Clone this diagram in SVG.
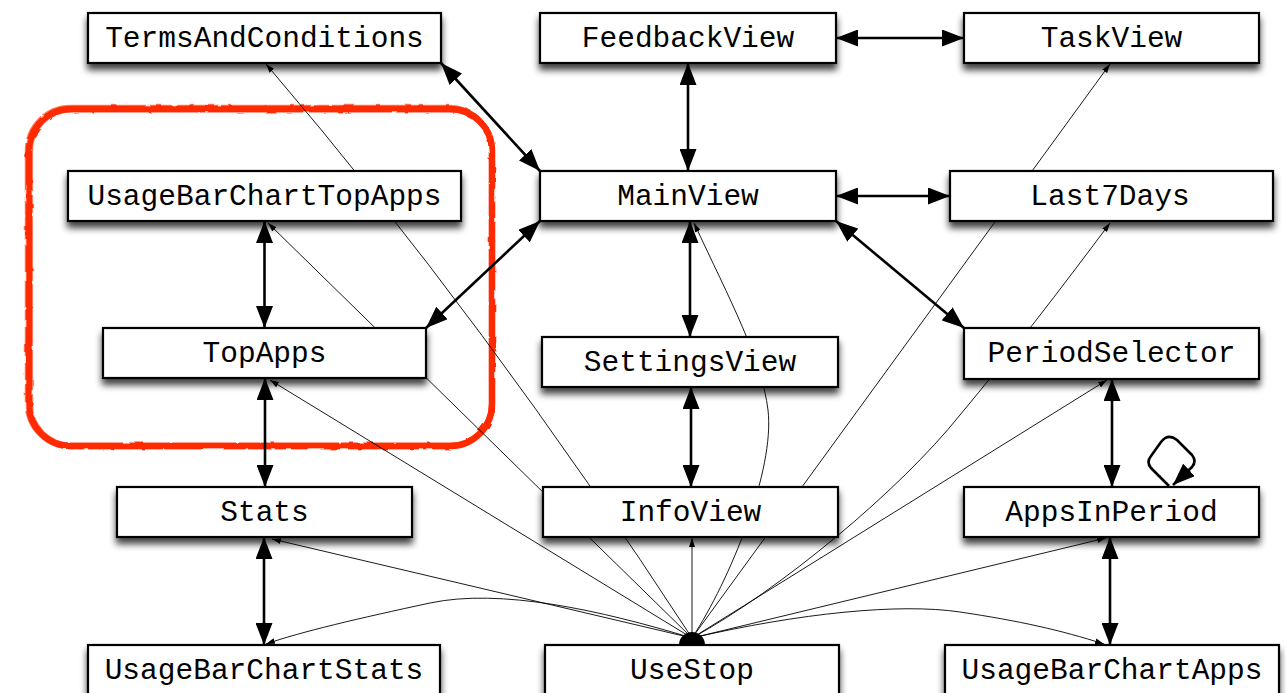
<svg xmlns="http://www.w3.org/2000/svg" width="1286" height="693" viewBox="0 0 1286 693">
<style>
.box{fill:#fff;stroke:#000;stroke-width:2.2;filter:url(#sh)}
.lbl{font-family:"Liberation Mono","Courier New",monospace;font-size:29.5px;fill:#000;text-anchor:middle}
.thick{fill:none;stroke:#000;stroke-width:2.6;marker-start:url(#big);marker-end:url(#big)}
.thin{fill:none;stroke:#000;stroke-width:0.9;marker-end:url(#small)}
.hl{fill:none;stroke:#ff2a00}
</style>
<defs>
<filter id="sh" x="-10%" y="-30%" width="125%" height="180%">
<feGaussianBlur in="SourceAlpha" stdDeviation="3.5"/>
<feOffset dy="6"/>
<feComponentTransfer><feFuncA type="linear" slope="0.75"/></feComponentTransfer>
<feMerge><feMergeNode/><feMergeNode in="SourceGraphic"/></feMerge>
</filter>
<filter id="rough" x="-5%" y="-5%" width="110%" height="110%">
<feTurbulence type="fractalNoise" baseFrequency="0.09" numOctaves="2" seed="3"/>
<feDisplacementMap in="SourceGraphic" scale="3"/>
</filter>
<marker id="big" viewBox="0 0 22 17" refX="22" refY="8.5" markerWidth="22" markerHeight="17" markerUnits="userSpaceOnUse" orient="auto-start-reverse">
<path d="M0,0 L22,8.5 L0,17 z" fill="#000"/>
</marker>
<marker id="small" viewBox="0 0 9 6" refX="9" refY="3" markerWidth="9" markerHeight="6" markerUnits="userSpaceOnUse" orient="auto">
<path d="M0,0 L9,3 L0,6 z" fill="#000"/>
</marker>
</defs>
<rect width="1286" height="693" fill="#fff"/>

<g id="highlight" filter="url(#rough)">
<rect class="hl" x="29" y="109" width="463" height="337" rx="42" stroke-width="6.5"/>
<rect class="hl" x="25.5" y="105.5" width="468" height="343" rx="45" stroke-width="1.5" opacity="0.6"/>
<rect class="hl" x="32.5" y="112" width="457" height="331" rx="39" stroke-width="1.2" opacity="0.5"/>
</g>

<g id="connectors">
<path class="thick" d="M441,63 L540,171"/>
<path class="thick" d="M836,38 L964,38"/>
<path class="thick" d="M688,63 L688,171"/>
<path class="thick" d="M836,196 L950,196"/>
<path class="thick" d="M540,221 L426,328"/>
<path class="thick" d="M836,221 L964,328"/>
<path class="thick" d="M690,221 L690,337"/>
<path class="thick" d="M691,387 L691,487"/>
<path class="thick" d="M264.5,221 L264.5,328"/>
<path class="thick" d="M265,378 L265,487"/>
<path class="thick" d="M264,537 L264,645"/>
<path class="thick" d="M1112,379 L1112,487"/>
<path class="thick" d="M1110,537 L1110,645"/>
<path fill="none" stroke="#000" stroke-width="2.6" marker-end="url(#big)" d="M1169,486 L1151,468 Q1146,462 1151,456 L1161,442 Q1168,433 1177,440 L1192,455 Q1197,461 1192,467 L1173,485"/>

<path class="thin" d="M692,638 C600,610 500,588 430,603 S300,632 266,644"/>
<path class="thin" d="M692,638 L272,539"/>
<path class="thin" d="M692,638 L270,380"/>
<path class="thin" d="M692,638 L268,223"/>
<path class="thin" d="M692,638 Q485,320 266,64"/>
<path class="thin" d="M692,638 L692,538"/>
<path class="thin" d="M692,638 C730,580 775,470 768,410 C762,360 730,300 694,223"/>
<path class="thin" d="M692,638 L1110,64"/>
<path class="thin" d="M692,638 C780,590 900,490 960,415 C1010,355 1060,290 1110,223"/>
<path class="thin" d="M692,638 L1107,380"/>
<path class="thin" d="M692,638 L1106,538"/>
<path class="thin" d="M692,638 C800,613 900,603 960,612 S1060,630 1104,644"/>
<path d="M679,645 A13,13 0 0 1 705,645 Z" fill="#000"/>
</g>

<g id="n-TermsAndConditions"><rect class="box" x="88" y="13" width="353" height="50"/><text class="lbl" x="264.5" y="46.5">TermsAndConditions</text></g>
<g id="n-FeedbackView"><rect class="box" x="540" y="13" width="296" height="50"/><text class="lbl" x="688" y="46.5">FeedbackView</text></g>
<g id="n-TaskView"><rect class="box" x="964" y="13" width="295" height="50"/><text class="lbl" x="1111.5" y="46.5">TaskView</text></g>
<g id="n-UsageBarChartTopApps"><rect class="box" x="68" y="171" width="393" height="50"/><text class="lbl" x="264.5" y="204.5">UsageBarChartTopApps</text></g>
<g id="n-MainView"><rect class="box" x="540" y="171" width="296" height="50"/><text class="lbl" x="688" y="204.5">MainView</text></g>
<g id="n-Last7Days"><rect class="box" x="950" y="171" width="323" height="50"/><text class="lbl" x="1110" y="204.5">Last7Days</text></g>
<g id="n-TopApps"><rect class="box" x="103" y="328" width="323" height="50"/><text class="lbl" x="264.5" y="361.5">TopApps</text></g>
<g id="n-SettingsView"><rect class="box" x="542" y="337" width="296" height="50"/><text class="lbl" x="690" y="370.5">SettingsView</text></g>
<g id="n-PeriodSelector"><rect class="box" x="964" y="328" width="295" height="51"/><text class="lbl" x="1111.5" y="362">PeriodSelector</text></g>
<g id="n-Stats"><rect class="box" x="117" y="487" width="295" height="50"/><text class="lbl" x="264.5" y="520.5">Stats</text></g>
<g id="n-InfoView"><rect class="box" x="543" y="487" width="295" height="50"/><text class="lbl" x="690.5" y="520.5">InfoView</text></g>
<g id="n-AppsInPeriod"><rect class="box" x="964" y="487" width="295" height="50"/><text class="lbl" x="1111.5" y="520.5">AppsInPeriod</text></g>
<g id="n-UsageBarChartStats"><rect class="box" x="88" y="645" width="352" height="54"/><text class="lbl" x="264" y="678.5">UsageBarChartStats</text></g>
<g id="n-UseStop"><rect class="box" x="545" y="645" width="294" height="54"/><text class="lbl" x="692" y="678.5">UseStop</text></g>
<g id="n-UsageBarChartApps"><rect class="box" x="945" y="645" width="334" height="54"/><text class="lbl" x="1112" y="678.5">UsageBarChartApps</text></g>
</svg>
